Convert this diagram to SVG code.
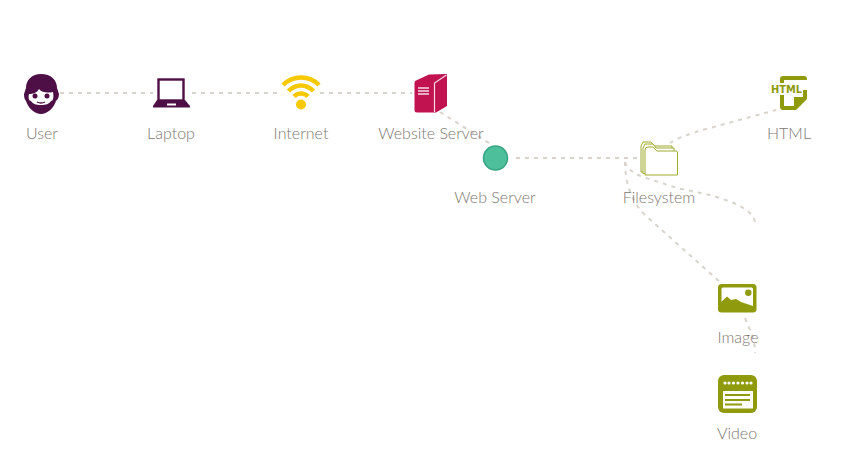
<svg xmlns="http://www.w3.org/2000/svg" width="868" height="473" viewBox="0 0 868 473">
<style>
text{font-family:"Lato","Noto Sans",sans-serif;font-size:16px;font-weight:300;fill:#7d7771;text-anchor:middle}
.c{fill:none;stroke:#d8d3cd;stroke-width:2;stroke-dasharray:4 5}
.p{fill:#4d0f45}.g{fill:#8f9a0c}.w{fill:#fff}
</style>
<rect width="868" height="473" fill="#fff"/>
<g id="connectors">
<path class="c" d="M60 93H153"/>
<path class="c" d="M192 93H282"/>
<path class="c" d="M320 93H412"/>
<path class="c" d="M440 112L489 143"/>
<path class="c" d="M516 158H640"/>
<path class="c" d="M670 143Q680 136 710 128L776 110"/>
<path class="c" d="M625 162C628 170 635 174 643 177L677 188L710 195C730 201 752 208 755 222"/>
<path class="c" d="M625 162C625 180 630 200 645 215L720 282"/>
<path class="c" d="M745 318C750 330 755 340 755 353"/>
</g>
<g id="user">
<path class="p" d="M41 74C51 74 57 80 57 88L59 94C59 98 57 100 56 101C54 108 47 114 41 114C35 114 28 108 26 101C25 100 24 98 24 94L26 88C26 80 32 74 41 74Z"/>
<path class="w" d="M29 94C33 94 37 93 39 89C42 93 48 93 53 92C54 98 53 101 51 101C49 104 46 105 41 105C36 105 33 104 31 101C29 101 28 98 29 94Z"/>
<circle class="p" cx="35" cy="96" r="2.500"/><circle class="p" cx="47" cy="96" r="2.500"/>
<path d="M37 102Q41 104 45 102" fill="none" stroke="#4d0f45" stroke-width="1.300"/>
<text x="42" y="139">User</text>
</g>
<g id="laptop">
<rect x="158.500" y="79.500" width="25" height="21" fill="#fff" stroke="#4d0f45" stroke-width="2.400"/>
<path class="p" d="M157 100H185L190 106V107.500H153V106Z"/>
<rect class="w" x="167" y="103.500" width="9" height="2"/>
<text x="171" y="139">Laptop</text>
</g>
<g id="internet">
<g fill="none" stroke="#f8c800" stroke-width="4.500">
<path d="M283 85C293 75 309 75 319 85"/>
<path d="M288.500 91C296 83.500 306 83.500 313.500 91"/>
<path d="M294 96.500C298 92.500 304 92.500 308 96.500"/>
</g>
<circle cx="301" cy="104.500" r="5" fill="#f8c800"/>
<text x="301" y="139">Internet</text>
</g>
<g id="website-server">
<path d="M415 81L429 74.500L447 74V106L436 112.500H417Q414.500 112.500 414.500 110V83Z" fill="#c1134f"/>
<path d="M434.500 112V83L446.500 75" fill="none" stroke="#f6dbe4" stroke-width="1.200"/>
<path d="M418 88H429M418 91H429M418 94H429" stroke="#f6dbe4" stroke-width="1.300" fill="none"/>
<text x="431" y="139">Website Server</text>
</g>
<g id="web-server">
<circle cx="495.500" cy="158" r="12" fill="#4dbf9b" stroke="#36a484" stroke-width="1.500"/>
<text x="495" y="203">Web Server</text>
</g>
<g id="filesystem">
<g fill="#fff" stroke="#9dab2e" stroke-width="1">
<path d="M641 172V146L643 142H651L654 146H672V172Z"/>
<path d="M643 173.500V148L645 144H653L656 148H674V173.500Z"/>
<path d="M645 175V150Q645 147 648 147H653L657 151H676Q677.500 151 677.500 153V175Z"/>
</g>
<text x="659" y="203">Filesystem</text>
</g>
<g id="html">
<path class="g" d="M783 76H804Q807 76 807 79V99L796 110H783Q780 110 780 107V90H807V80H784V90H780V79Q780 76 783 76Z"/>
<path class="w" d="M784 95H803V97H794V106H784Z"/>
<rect class="w" x="770" y="83" width="33" height="12" rx="1"/>
<text x="786.500" y="93" textLength="31" lengthAdjust="spacingAndGlyphs" style="font-family:'DejaVu Sans',sans-serif;font-size:10.500px;font-weight:700;fill:#8f9a0c">HTML</text>
<text x="789" y="139">HTML</text>
</g>
<g id="image">
<rect class="g" x="718" y="284" width="38.500" height="28.500" rx="3.500"/>
<rect class="w" x="721.500" y="287.500" width="31.500" height="20" rx="1.500"/>
<path class="g" d="M720 309V303L727 296.500L731 300L736 299L741 302L753 306V309Z"/>
<circle class="g" cx="748.300" cy="292.800" r="3.200"/>
<text x="738" y="343">Image</text>
</g>
<g id="video">
<rect class="g" x="718" y="375" width="39" height="38" rx="6"/>
<circle class="w" cx="725" cy="383" r="1.600"/><circle class="w" cx="729" cy="383" r="1.600"/><circle class="w" cx="733.500" cy="383" r="1.600"/><circle class="w" cx="738" cy="383" r="1.600"/><circle class="w" cx="742.500" cy="383" r="1.600"/><circle class="w" cx="747" cy="383" r="1.600"/><circle class="w" cx="751" cy="383" r="1.600"/>
<rect class="w" x="723" y="391" width="30" height="17.500"/>
<path class="g" d="M725 394H750V396H725ZM725 399H750V401H725ZM725 403.500H742V405.500H725Z"/>
<text x="737" y="439">Video</text>
</g>
</svg>
